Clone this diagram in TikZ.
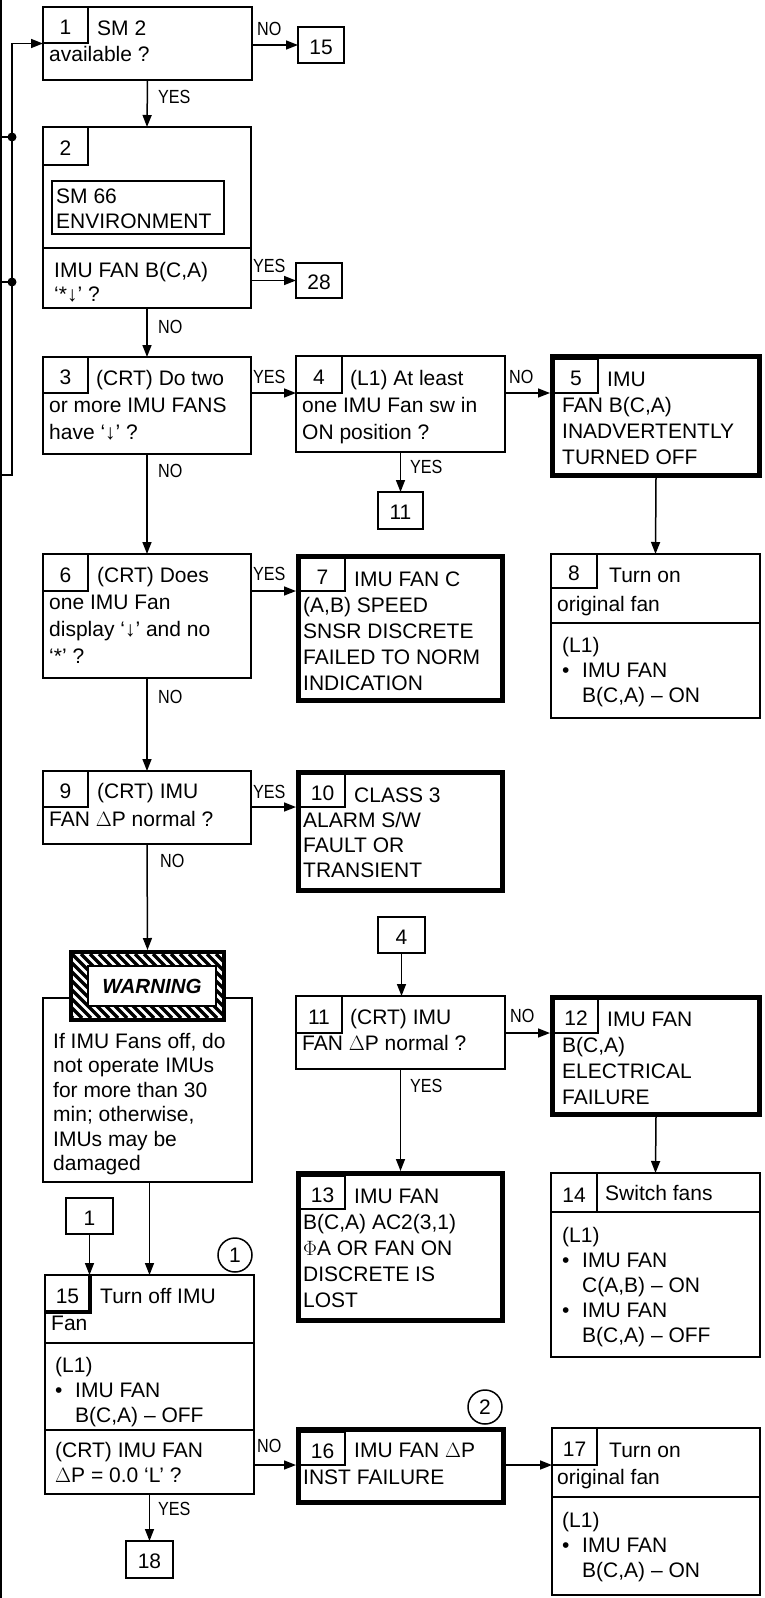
\documentclass[tikz,border=0pt]{standalone}
\usepackage{fontspec}
\setmainfont{Liberation Sans}
\usetikzlibrary{arrows.meta, positioning, calc}
\newcommand{\bodyfont}{\fontsize{21}{26}\selectfont}
\newcommand{\itemfont}{\fontsize{21}{25}\selectfont}
\newcommand{\tagfont}{\fontsize{19}{22}\selectfont}
\newcommand{\yn}[1]{\scalebox{0.85}[1]{#1}}
\newcommand{\bul}{\makebox[20pt][l]{•}}
\newcommand{\bulgap}{\hspace*{20pt}}
\newcommand{\fl}{\rule{0pt}{16pt}}
\tikzset{
  line/.style={draw=black, line width=1.5pt},
  divider/.style={draw=black, line width=2pt},
  arrow/.style={draw=black, line width=1.5pt, -{Triangle[length=12pt, width=9pt]}},
  box/.style={draw=black, line width=2pt, rectangle, anchor=north west, inner sep=0pt, outer sep=0pt},
  heavybox/.style={box, line width=5pt, outer sep=2.5pt},
  numcell/.style={box, line width=1.5pt, font=\bodyfont, text height=19pt, text depth=0pt},
  refbox/.style={box, line width=1.5pt, font=\bodyfont, text height=18pt, text depth=0pt},
  txt/.style={anchor=north west, yshift=16pt, align=left, inner sep=0pt, font=\bodyfont},
  itemtxt/.style={txt, font=\itemfont},
  tag/.style={anchor=base west, inner sep=0pt, font=\tagfont},
  circnum/.style={circle, draw=black, line width=1.5pt, minimum size=34pt, inner sep=0pt, font=\bodyfont},
  stripe/.style={draw=black, line width=3.2pt}
}
\begin{document}
\begin{tikzpicture}[x=1pt, y=-1pt]
  \useasboundingbox (0,0) rectangle (764,1598);

  % left column
  \node [box, minimum width=209pt, minimum height=73pt] (b1) at (43,7) {};
  \node [numcell, minimum width=45pt, minimum height=36pt] (b1n) at (43,7) {1};
  \node [txt] (b1t) at (49,35) {\fl\hspace*{48pt}SM 2\\available ?};

  \node [box, minimum width=208pt, minimum height=181pt] (b2) at (43,127) {};
  \node [numcell, minimum width=45pt, minimum height=38pt] (b2n) at (43,127) {2};
  \node [box, line width=1.5pt, minimum width=172pt, minimum height=53pt] (sm66) at (52,181) {};
  \node [txt, font=\itemfont] (sm66t) at (56,203) {\fl SM 66\\ENVIRONMENT};
  \draw [divider] (43,248) -- (251,248);
  \node [txt, font=\fontsize{21}{24}\selectfont] (b2t) at (54,277) {\fl IMU FAN B(C,A)\\`*↓' ?};

  \node [box, minimum width=208pt, minimum height=97pt] (b3) at (43,357) {};
  \node [numcell, minimum width=45pt, minimum height=36pt] (b3n) at (43,357) {3};
  \node [txt, font=\fontsize{21}{27}\selectfont] (b3t) at (49,385) {\fl\hspace*{47pt}(CRT) Do two\\or more IMU FANS\\have `↓' ?};

  \node [box, minimum width=208pt, minimum height=124pt] (b6) at (43,554) {};
  \node [numcell, minimum width=45pt, minimum height=37pt] (b6n) at (43,554) {6};
  \node [txt, font=\fontsize{21}{27}\selectfont] (b6t) at (49,582) {\fl\hspace*{48pt}(CRT) Does\\one IMU Fan\\display `↓' and no\\`*' ?};

  \node [box, minimum width=208pt, minimum height=73pt] (b9) at (43,771) {};
  \node [numcell, minimum width=45pt, minimum height=36pt] (b9n) at (43,771) {9};
  \node [txt, font=\fontsize{21}{28}\selectfont] (b9t) at (49,798) {\fl\hspace*{48pt}(CRT) IMU\\FAN $\Delta$P normal ?};

  \node [box, minimum width=209pt, minimum height=184pt] (wtxt) at (43,998) {};
  \node [txt, font=\fontsize{21}{24.5}\selectfont] (wtxtt) at (53,1048) {\fl If IMU Fans off, do\\not operate IMUs\\for more than 30\\min; otherwise,\\IMUs may be\\damaged};

  % warning sign
  \node [box, fill=white, line width=4pt, outer sep=2pt, minimum width=153pt, minimum height=68pt] (warn) at (69,950) {};
  \begin{scope}
    \clip (73,954) rectangle (222,1018);
    \foreach \s in {0,9,...,225}
      \draw [stripe] (\s,954) -- ++(64,64);
  \end{scope}
  \node [box, fill=white, line width=2.5pt, minimum width=128pt, minimum height=40pt, font=\bfseries\itshape\fontsize{20.5}{24}\selectfont] (warnin) at (88,966) {WARNING};

  \node [refbox, minimum width=47pt, minimum height=36pt] (r1) at (66,1198) {1};
  \node [circnum] (o1) at (235,1255) {1};

  \node [box, minimum width=209pt, minimum height=219pt] (b15) at (45,1275) {};
  \node [numcell, minimum width=45pt, minimum height=37pt] (b15n) at (45,1275) {15};
  \draw [line width=4pt] (b15n.north east) -- (b15n.south east) -- (b15n.south west);
  \node [txt, font=\fontsize{21}{27}\selectfont] (b15t) at (51,1303) {\fl\hspace*{49pt}Turn off IMU\\Fan};
  \draw [divider] (45,1343) -- (254,1343);
  \node [itemtxt] (b15a) at (55,1372) {\fl(L1)\\\bul IMU FAN\\\bulgap B(C,A) -- OFF};
  \draw [divider] (45,1430) -- (254,1430);
  \node [itemtxt] (b15q) at (55,1457) {\fl(CRT) IMU FAN\\$\Delta$P = 0.0 `L' ?};

  \node [refbox, minimum width=47pt, minimum height=37pt] (r18) at (126,1541) {18};

  % middle column
  \node [refbox, minimum width=46pt, minimum height=36pt] (r15) at (298,27) {15};
  \node [refbox, minimum width=46pt, minimum height=35pt] (r28) at (296,263) {28};

  \node [box, minimum width=209pt, minimum height=96pt] (b4) at (296,356) {};
  \node [numcell, minimum width=46pt, minimum height=37pt] (b4n) at (296,356) {4};
  \node [txt, font=\fontsize{21}{27}\selectfont] (b4t) at (302,385) {\fl\hspace*{48pt}(L1) At least\\one IMU Fan sw in\\ON position ?};
  \node [refbox, minimum width=45pt, minimum height=37pt] (r11) at (378,492) {11};

  \node [heavybox, minimum width=204pt, minimum height=144pt] (b7) at (296,554) {};
  \node [numcell, minimum width=45pt, minimum height=33pt] (b7n) at (300,558) {7};
  \node [txt] (b7t) at (303,586) {\fl\hspace*{51pt}IMU FAN C\\(A,B) SPEED\\SNSR DISCRETE\\FAILED TO NORM\\INDICATION};

  \node [heavybox, minimum width=204pt, minimum height=118pt] (b10) at (296,770) {};
  \node [numcell, minimum width=45pt, minimum height=33pt] (b10n) at (300,774) {10};
  \node [txt, font=\itemfont] (b10t) at (303,802) {\fl\hspace*{51pt}CLASS 3\\ALARM S/W\\FAULT OR\\TRANSIENT};

  \node [refbox, minimum width=47pt, minimum height=36pt] (r4) at (378,917) {4};

  \node [box, minimum width=209pt, minimum height=73pt] (b11) at (296,996) {};
  \node [numcell, minimum width=46pt, minimum height=37pt] (b11n) at (296,996) {11};
  \node [txt] (b11t) at (302,1024) {\fl\hspace*{48pt}(CRT) IMU\\FAN $\Delta$P normal ?};

  \node [heavybox, minimum width=204pt, minimum height=147pt] (b13) at (296,1171) {};
  \node [numcell, minimum width=45pt, minimum height=33pt] (b13n) at (300,1176) {13};
  \node [txt] (b13t) at (303,1203) {\fl\hspace*{51pt}IMU FAN\\B(C,A) AC2(3,1)\\$\Phi$A OR FAN ON\\DISCRETE IS\\LOST};

  \node [circnum] (o2) at (485,1407) {2};
  \node [heavybox, minimum width=205pt, minimum height=73pt] (b16) at (296,1427) {};
  \node [numcell, minimum width=45pt, minimum height=33pt] (b16n) at (300,1432) {16};
  \node [txt, font=\fontsize{21}{27}\selectfont] (b16t) at (303,1457) {\fl\hspace*{51pt}IMU FAN $\Delta$P\\INST FAILURE};

  % right column
  \node [heavybox, minimum width=207pt, minimum height=119pt] (b5) at (550,354) {};
  \node [numcell, minimum width=44pt, minimum height=34pt] (b5n) at (554,359) {5};
  \node [txt] (b5t) at (562,386) {\fl\hspace*{45pt}IMU\\FAN B(C,A)\\INADVERTENTLY\\TURNED OFF};

  \node [box, minimum width=209pt, minimum height=164pt] (b8) at (551,554) {};
  \node [numcell, minimum width=46pt, minimum height=34pt] (b8n) at (551,554) {8};
  \node [txt, font=\fontsize{21}{29}\selectfont] (b8t) at (557,582) {\fl\hspace*{52pt}Turn on\\original fan};
  \draw [divider] (551,623) -- (760,623);
  \node [itemtxt] (b8a) at (562,652) {\fl(L1)\\\bul IMU FAN\\\bulgap B(C,A) -- ON};

  \node [heavybox, minimum width=207pt, minimum height=117pt] (b12) at (550,995) {};
  \node [numcell, minimum width=44pt, minimum height=34pt] (b12n) at (554,999) {12};
  \node [txt] (b12t) at (562,1026) {\fl\hspace*{45pt}IMU FAN\\B(C,A)\\ELECTRICAL\\FAILURE};

  \node [box, minimum width=209pt, minimum height=184pt] (b14) at (551,1173) {};
  \node [numcell, minimum width=46pt, minimum height=39pt] (b14n) at (551,1173) {14};
  \draw [divider] (551,1212) -- (760,1212);
  \node [tag, font=\bodyfont] (b14t) at (605,1200) {Switch fans};
  \node [itemtxt] (b14a) at (562,1242) {\fl(L1)\\\bul IMU FAN\\\bulgap C(A,B) -- ON\\\bul IMU FAN\\\bulgap B(C,A) -- OFF};

  \node [box, minimum width=208pt, minimum height=167pt] (b17) at (552,1428) {};
  \node [numcell, minimum width=45pt, minimum height=37pt] (b17n) at (552,1428) {17};
  \node [txt, font=\fontsize{21}{27}\selectfont] (b17t) at (557,1457) {\fl\hspace*{52pt}Turn on\\original fan};
  \draw [divider] (552,1497) -- (760,1497);
  \node [itemtxt] (b17a) at (562,1527) {\fl(L1)\\\bul IMU FAN\\\bulgap B(C,A) -- ON};

  % feed lines on the left edge
  \coordinate (edgetop) at (1,0);
  \coordinate (edgebot) at (1,1598);
  \coordinate (feed) at (1,475);
  \coordinate (feedtop) at (12,43.5);
  \coordinate (j1) at (12,137);
  \coordinate (j2) at (12,282);
  \draw [line] (edgetop) -- (edgebot);
  \draw [arrow] (feed) -| (feedtop) -- (b1.west);
  \draw [line] (j1 -| feed) -- (j1);
  \draw [line] (j2 -| feed) -- (j2);
  \fill (j1) circle (4.5);
  \fill (j2) circle (4.5);

  % connectors
  \draw [arrow] (r15.west -| b1.east) -- (r15.west);
  \draw [arrow] (b1.south) -- (b2.north);
  \draw [arrow] (r28.west -| b2.east) -- (r28.west);
  \draw [arrow] (b2.south) -- (b3.north);
  \draw [arrow] (b3.east |- b4n.south) -- (b4n.south west);
  \draw [arrow] (b4.east |- b5n.south) -- (b5.west |- b5n.south);
  \draw [arrow] (b4.south) -- (r11.north);
  \draw [arrow] (b3.south) -- (b6.north);
  \draw [arrow] (b6.east |- b7n.south) -- (b7.west |- b7n.south);
  \draw [arrow] (b5.south) -- (b8.north);
  \draw [arrow] (b6.south) -- (b9.north);
  \draw [arrow] (b9.east |- b10n.south) -- (b10.west |- b10n.south);
  \draw [arrow] (b9.south) -- (warn.north);
  \draw [arrow] (b15.north |- wtxt.south) -- (b15.north);
  \draw [arrow] (r1.south) -- (r1.south |- b15.north);
  \draw [arrow] (r4.south) -- (r4.south |- b11.north);
  \draw [arrow] (b11.east |- b12n.south) -- (b12.west |- b12n.south);
  \draw [arrow] (b11.south) -- (b13.north);
  \draw [arrow] (b12.south) -- (b14.north);
  \draw [arrow] (b15.east |- b16n.south) -- (b16.west |- b16n.south);
  \draw [arrow] (b15.south) -- (r18.north);
  \draw [arrow] (b16.east |- b17n.south) -- (b17.west |- b17n.south);

  % branch labels
  \node [tag] (l1) at (257,35) {\yn{NO}};
  \node [tag] (l2) at (158,103) {\yn{YES}};
  \node [tag] (l3) at (253,272) {\yn{YES}};
  \node [tag] (l4) at (158,333) {\yn{NO}};
  \node [tag] (l5) at (253,383) {\yn{YES}};
  \node [tag] (l6) at (158,477) {\yn{NO}};
  \node [tag] (l7) at (509,383) {\yn{NO}};
  \node [tag] (l8) at (410,473) {\yn{YES}};
  \node [tag] (l9) at (253,580) {\yn{YES}};
  \node [tag] (l10) at (158,703) {\yn{NO}};
  \node [tag] (l11) at (253,798) {\yn{YES}};
  \node [tag] (l12) at (160,867) {\yn{NO}};
  \node [tag] (l13) at (510,1022) {\yn{NO}};
  \node [tag] (l14) at (410,1092) {\yn{YES}};
  \node [tag] (l15) at (257,1452) {\yn{NO}};
  \node [tag] (l16) at (158,1515) {\yn{YES}};
\end{tikzpicture}
\end{document}
